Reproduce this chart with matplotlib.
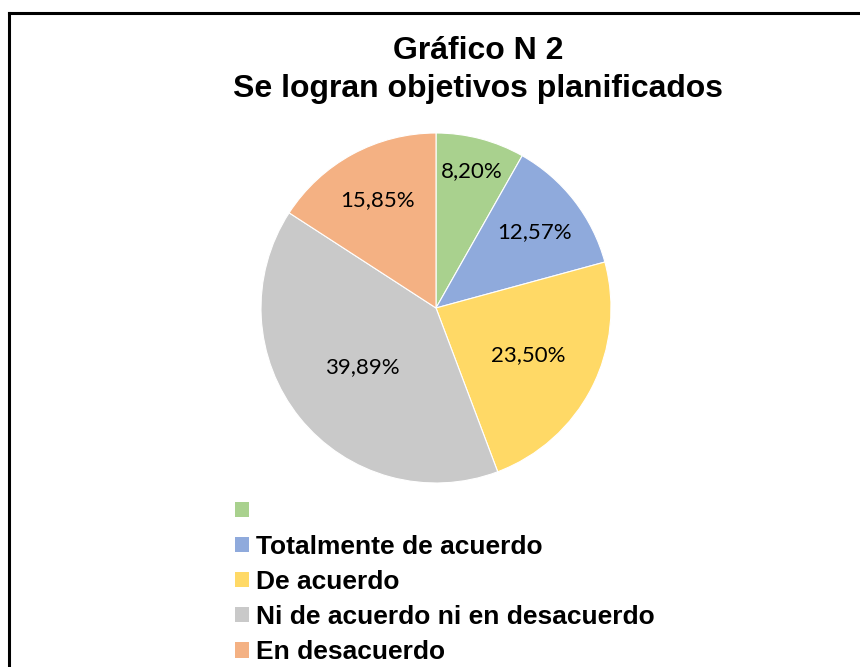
import matplotlib
matplotlib.use("Agg")
import matplotlib.pyplot as plt
import numpy as np
from matplotlib.lines import Line2D
from matplotlib.patches import Patch

title = "Gráfico N 2\nSe logran objetivos planificados"
categories = ["", "Totalmente de acuerdo", "De acuerdo",
              "Ni de acuerdo ni en desacuerdo", "En desacuerdo"]
values = [8.20, 12.57, 23.50, 39.89, 15.85]
value_labels = ["8,20%", "12,57%", "23,50%", "39,89%", "15,85%"]

colors = ["#A9D18E", "#8FAADC", "#FFD966", "#C9C9C9", "#F4B183"]
label_dist = [0.81, 0.71, 0.59, 0.54, 0.70]

W, H = 860, 667
fig = plt.figure(figsize=(W / 100, H / 100), dpi=100)

# pie area: center (436, 308) px, radius 175 px
cx, cy, r = 436, 308, 175
ax = fig.add_axes([(cx - r) / W, (H - cy - r) / H, 2 * r / W, 2 * r / H])
wedges, _ = ax.pie(values, colors=colors, startangle=90, counterclock=False,
                   radius=1, wedgeprops=dict(edgecolor="white", linewidth=0.8))
ax.set_xlim(-1, 1)
ax.set_ylim(-1, 1)
ax.set_aspect("auto")
ax.axis("off")

for w, lab, d in zip(wedges, value_labels, label_dist):
    ang = np.deg2rad((w.theta1 + w.theta2) / 2)
    ax.text(d * np.cos(ang), d * np.sin(ang), lab, ha="center", va="center",
            fontsize=16, family="Lato", color="black")

fig.text(478 / W, 1 - 70 / H, title, ha="center", va="center",
         fontsize=23, fontweight="bold", family="Liberation Sans",
         linespacing=1.32)

handles = [Patch(facecolor=c, edgecolor="none") for c in colors]
leg = fig.legend(handles, categories, loc="upper left",
                 bbox_to_anchor=(211 / W, 1 - 476 / H),
                 frameon=False, handlelength=0.53, handleheight=0.53,
                 handletextpad=0.27, labelspacing=0.42,
                 prop=dict(family="Liberation Sans", weight="bold", size=19))

# outer frame (left and top edges visible)
fig.add_artist(Line2D([8.5 / W, 8.5 / W], [0, 1 - 12.5 / H], color="black",
                      linewidth=2.2, transform=fig.transFigure))
fig.add_artist(Line2D([8.5 / W, 1], [1 - 12.5 / H, 1 - 12.5 / H], color="black",
                      linewidth=2.2, transform=fig.transFigure))

fig.savefig("out.png", dpi=100)
